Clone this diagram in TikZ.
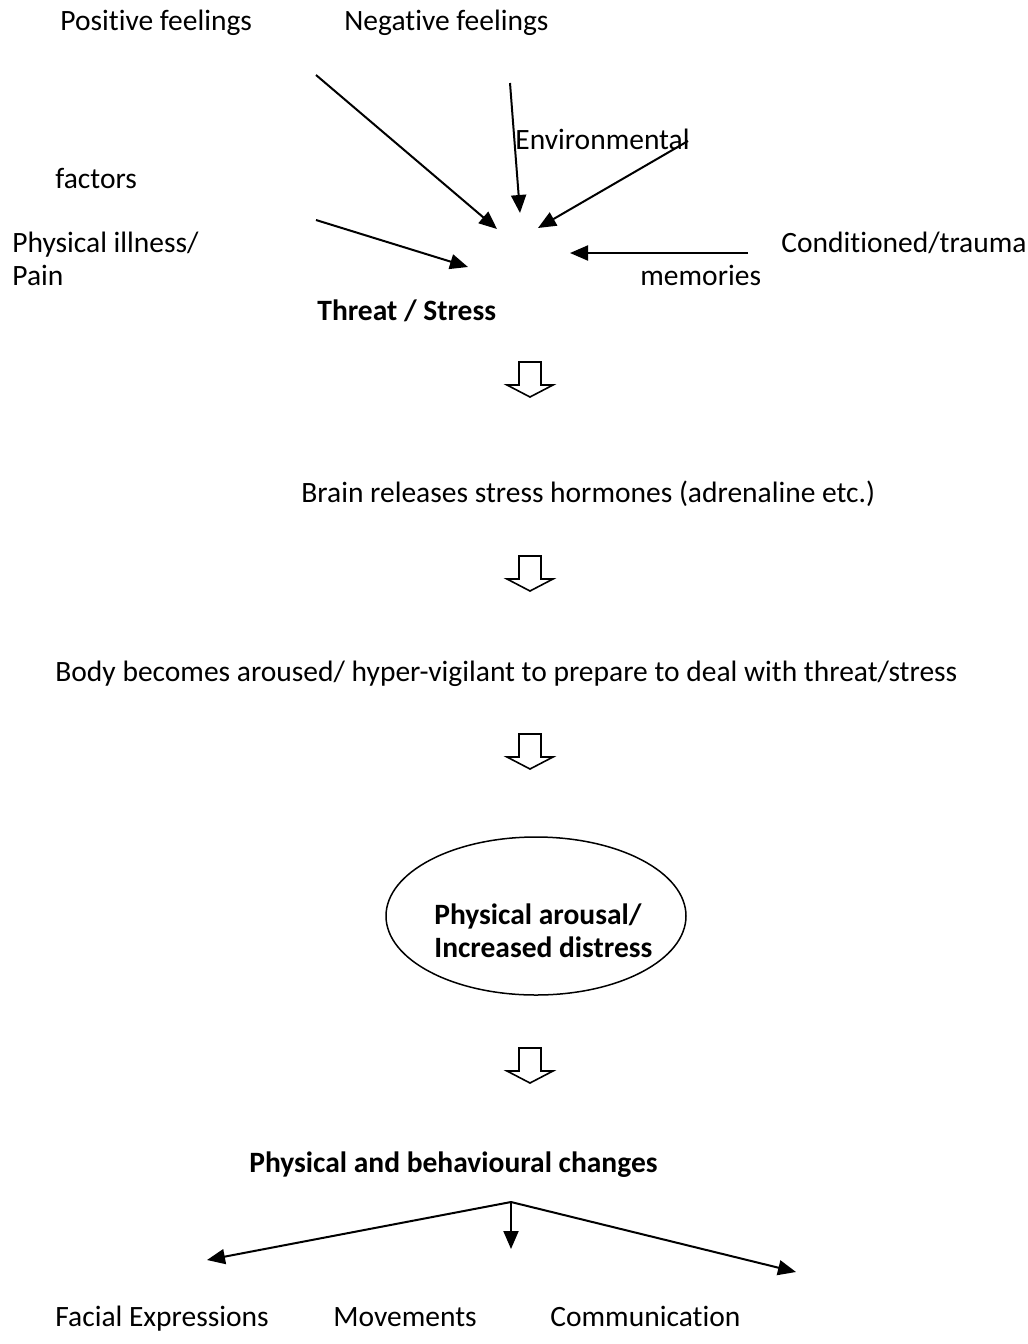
\documentclass[tikz,border=0pt]{standalone}
\usepackage{fontspec}
\setmainfont[Ligatures=NoCommon]{Carlito}
\usetikzlibrary{arrows.meta,shapes.geometric}
\begin{document}
\begin{tikzpicture}[x=0.5pt,y=-0.5pt,
  lbl/.style={anchor=base west,inner sep=0pt,font=\fontsize{14.75}{16.5}\selectfont},
  blbl/.style={anchor=base west,inner sep=0pt,font=\fontsize{14.75}{16.5}\selectfont\bfseries},
  arr/.style={line width=1pt,-{Triangle[length=9pt,width=7.5pt]}},
  blockarrow/.pic={\draw[line width=0.8pt,line join=miter] (-11,0) -- (11,0) -- (11,23) -- (23,23) -- (0,35) -- (-23,23) -- (-11,23) -- cycle;}
]
\useasboundingbox (0,0) rectangle (1028,1344);

% labels
\node[lbl] (pos) at (60,30) {Positive feelings};
\node[lbl] (neg) at (344,30) {Negative feelings};
\node[lbl] (env) at (515,149) {Environmental};
\node[lbl] (fac) at (55,188) {factors};
\node[lbl] (ill) at (12,252) {Physical illness/};
\node[lbl] (pain) at (12,285) {Pain};
\node[lbl] (cond) at (781,252) {Conditioned/trauma};
\node[lbl] (mem) at (640,285) {memories};
\node[blbl] (threat) at (317,320) {Threat / Stress};
\node[lbl] (brain) at (301,502) {Brain releases stress hormones (adrenaline etc.)};
\node[lbl] (body) at (55,681) {Body becomes aroused/ hyper-vigilant to prepare to deal with threat/stress};
\node[draw,ellipse,line width=0.75pt,minimum width=150pt,minimum height=79pt,inner sep=0pt] (ell) at (536,916) {};
\node[blbl] (ell1) at (434,924) {Physical arousal/};
\node[blbl] (ell2) at (434,957) {Increased distress};
\node[blbl] (chg) at (249,1172) {Physical and behavioural changes};
\node[lbl] (face) at (55,1326) {Facial Expressions};
\node[lbl] (mov) at (333,1326) {Movements};
\node[lbl] (com) at (550,1326) {Communication};

% converging arrows
\coordinate (a1s) at (316,75);  \coordinate (a1e) at (497,229);
\coordinate (a2s) at (510,83);  \coordinate (a2e) at (520,213);
\coordinate (a3s) at (688,141); \coordinate (a3e) at (538,228);
\coordinate (a4s) at (316,220); \coordinate (a4e) at (468,267);
\coordinate (a5s) at (748,253); \coordinate (a5e) at (570,253);
\draw[arr] (a1s) -- (a1e);
\draw[arr] (a2s) -- (a2e);
\draw[arr] (a3s) -- (a3e);
\draw[arr] (a4s) -- (a4e);
\draw[arr] (a5s) -- (a5e);

% block arrows
\pic at (530,362) {blockarrow};
\pic at (530,556) {blockarrow};
\pic at (530,734) {blockarrow};
\pic at (530,1048) {blockarrow};

% branching arrows
\coordinate (apex) at (511,1202);
\coordinate (lt) at (207,1260);
\coordinate (mt) at (511,1249);
\coordinate (rt) at (796,1272);
\draw[arr] (apex) -- (lt);
\draw[arr] (apex) -- (mt);
\draw[arr] (apex) -- (rt);
\end{tikzpicture}
\end{document}
